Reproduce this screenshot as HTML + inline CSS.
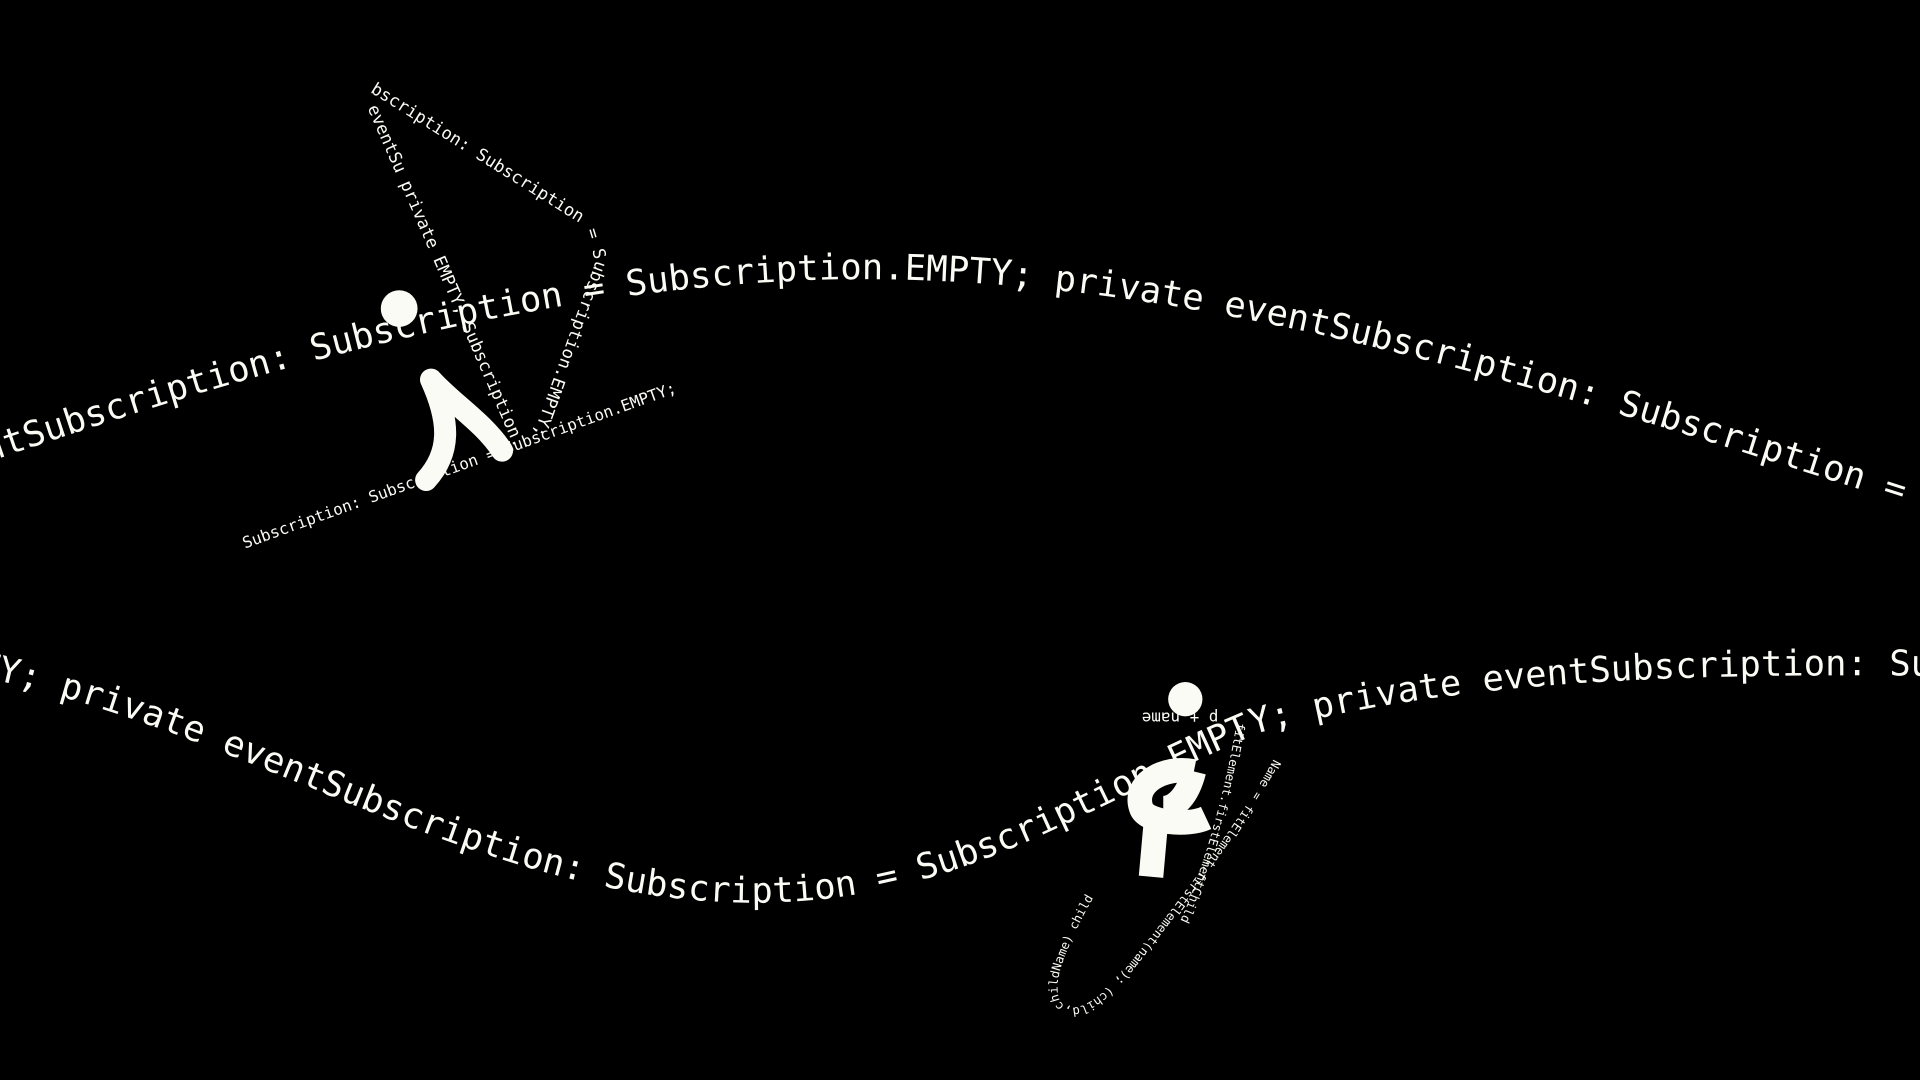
<!DOCTYPE html>
<html><head><meta charset="utf-8"><style>
html,body{margin:0;padding:0;background:#000;width:1920px;height:1080px;overflow:hidden}
svg{display:block}
text{font-family:"DejaVu Sans Mono","Liberation Mono",monospace;fill:#fbfbf5}
</style></head><body>
<svg width="1920" height="1080" viewBox="0 0 1568 882" xmlns="http://www.w3.org/2000/svg">
<defs>
<path id="c1" d="M -60 395 C 250 285, 470 232, 690 228 C 1000 225, 1300 330, 1620 432"/>
<path id="c2" d="M -20 552 C 200 595, 380 730, 600 737 C 780 742, 880 660, 1030 598 C 1200 552, 1400 550, 1600 552"/>
<path id="s1" d="M 302 75 L 478 185 L 484 205 L 486 215 L 430 370"/>
<path id="s2" d="M 300 88 L 420 365"/>
<path id="s3" d="M 200 448 L 582 310"/>
<path id="e1" d="M 1040 620 C 1020 660, 960 740, 920 790 C 880 840, 850 830, 870 780 C 890 730, 920 690, 950 650"/>
<path id="e2" d="M 1010 590 C 1000 650, 980 720, 960 760"/>
</defs>
<text font-size="29"><textPath href="#c1">eventSubscription: Subscription = Subscription.EMPTY; private eventSubscription: Subscription = Subscription</textPath></text>
<text font-size="29"><textPath href="#c2">TY; private eventSubscription: Subscription = Subscription.EMPTY; private eventSubscription: Subscription</textPath></text>
<text font-size="14"><textPath href="#s1">bscription: Subscription = Subscription.EMPTY;</textPath></text>
<text font-size="14"><textPath href="#s2">eventSu private EMPTY; Subscription.EMPTY; =</textPath></text>
<text font-size="13"><textPath href="#s3">Subscription: Subscription = Subscription.EMPTY;</textPath></text>
<text font-size="10"><textPath href="#e1">Name = fitElement.firstElement(name); (child,childName) child</textPath></text>
<text font-size="10"><textPath href="#e2">fitElement.firstElementChild</textPath></text>
<text font-size="13" transform="rotate(180 950 587)" x="905" y="592">p + name</text>
<circle cx="326" cy="252" r="15" fill="#fbfbf5"/>
<path d="M 352 310 C 370 330, 395 345, 410 368 M 352 310 C 368 345, 368 370, 348 392" stroke="#fbfbf5" stroke-width="18" stroke-linecap="round" fill="none"/>
<circle cx="968" cy="571" r="14" fill="#fbfbf5"/>
<path d="M 940 716 L 945 660 M 950 660 C 960 660, 970 650, 975 630 M 975 630 C 950 625, 925 640, 932 660 C 936 672, 970 675, 985 668" stroke="#fbfbf5" stroke-width="20" stroke-linecap="butt" fill="none"/>
</svg>
</body></html>
